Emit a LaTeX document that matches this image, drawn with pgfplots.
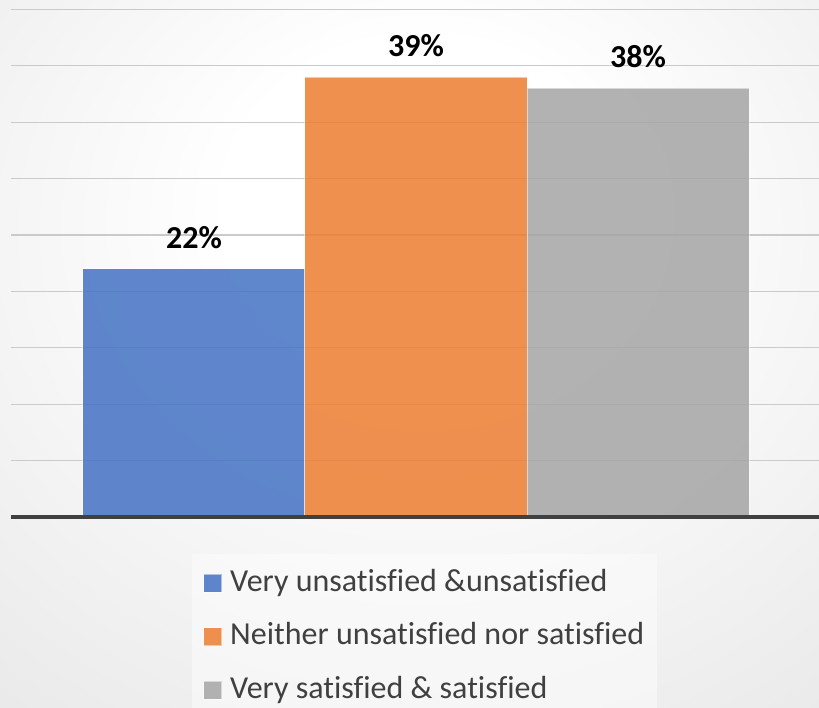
\documentclass[border=0pt]{standalone}
\usepackage{pgfplots}
\pgfplotsset{compat=1.18}
\usepackage{fontspec}
\setmainfont{Carlito}[Ligatures=NoCommon]

\definecolor{barblue}{HTML}{4472C4}
\definecolor{barorange}{HTML}{ED7D31}
\definecolor{bargray}{HTML}{A5A5A5}
\definecolor{gridc}{HTML}{CACACA}
\definecolor{axisc}{HTML}{404040}
\definecolor{textc}{HTML}{404040}
\definecolor{bgmid}{HTML}{E4E4E4}
\definecolor{bgout}{HTML}{C8C8C8}

% soft radial backdrop, lightest slightly above the middle
\pgfdeclareradialshading{bgshade}{\pgfpoint{1bp}{12bp}}{%
  color(0bp)=(white); color(12bp)=(white); color(48bp)=(bgmid); color(85bp)=(bgout)}

\pgfplotsset{
  catbar/.style={
    ybar, bar width=1, bar shift=0pt,
    fill opacity=0.85, draw=white, draw opacity=0.5, line width=1bp,
    legend image code/.code={\draw[##1] (0bp,-9bp) rectangle (18bp,9bp);}
  }
}

\begin{document}
\begin{tikzpicture}
\useasboundingbox (0,0) rectangle (819bp,708bp);
\shade[shading=bgshade] (0,0) rectangle (819bp,708bp);
\begin{axis}[
  at={(11bp,191bp)}, anchor=south west,
  scale only axis, width=810bp, height=507.6bp,
  xmin=-0.824, xmax=2.824, ymin=0, ymax=45,
  clip=false,
  ytick={5,10,...,45}, xtick=\empty, yticklabels={},
  ymajorgrids, grid style={gridc, line width=1.3bp},
  major tick length=0pt,
  axis line style={draw=none},
  point meta=y,
  /pgf/number format/assume math mode=true,
  nodes near coords={\pgfmathprintnumber{\pgfplotspointmeta}\%},
  nodes near coords style={font=\fontsize{32bp}{38bp}\selectfont\bfseries,
    text=black, anchor=base, yshift=20.5bp, text opacity=1},
  legend cell align=left,
  legend style={at={(0.2235,-0.0729)}, anchor=north west,
    draw=none, fill=white, fill opacity=0.45, text opacity=1,
    font=\fontsize{32bp}{38bp}\selectfont, text=textc,
    inner sep=11bp, row sep=17.5bp, column sep=6bp,
    nodes={inner sep=2bp, text height=24bp, text depth=8bp}},
]
\addplot[catbar, fill=barblue] coordinates {(0,22)};
\addlegendentry{Very unsatisfied \&unsatisfied}
\addplot[catbar, fill=barorange] coordinates {(1,39)};
\addlegendentry{Neither unsatisfied nor satisfied}
\addplot[catbar, fill=bargray] coordinates {(2,38)};
\addlegendentry{Very satisfied \& satisfied}
\draw[axisc, line width=3.2bp] (rel axis cs:0,0) -- (rel axis cs:1,0);
\end{axis}
\end{tikzpicture}
\end{document}
